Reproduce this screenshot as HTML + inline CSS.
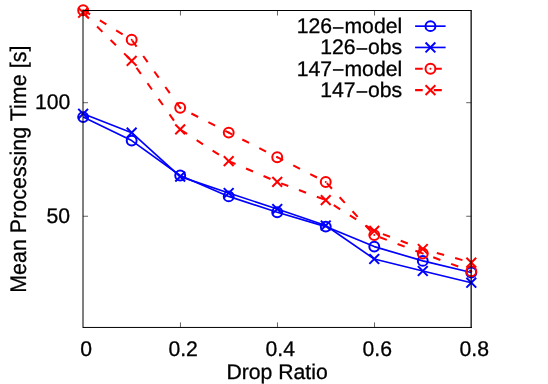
<!DOCTYPE html>
<html><head><meta charset="utf-8"><title>chart</title>
<style>
html,body{margin:0;padding:0;background:#fff;}
body{width:548px;height:384px;overflow:hidden;}
svg{display:block;will-change:transform;}
text{font-family:"Liberation Sans",sans-serif;font-size:21.2px;fill:#000;stroke:#000;stroke-width:0.3px;text-rendering:geometricPrecision;}
</style></head><body>
<svg width="548" height="384" viewBox="0 0 548 384">
<rect x="0" y="0" width="548" height="384" fill="#ffffff"/>
<g stroke="#000" stroke-width="0.62" fill="none">
<path d="M180.44,327.45V322.45M180.44,10.5V15.50"/>
<path d="M277.48,327.45V322.45M277.48,10.5V15.50"/>
<path d="M374.52,327.45V322.45M374.52,10.5V15.50"/>
<path d="M83.0,102.7H88.00M471.2,102.7H466.20"/>
<path d="M83.0,216.25H88.00M471.2,216.25H466.20"/>
</g>
<polyline points="83.15,117.10 131.67,140.60 180.19,175.50 228.71,196.40 277.23,212.20 325.75,226.60 374.27,246.60 422.79,260.90 471.31,272.50" fill="none" stroke="#0000ff" stroke-width="1.65" stroke-linejoin="round"/>
<circle cx="83.15" cy="117.10" r="4.95" fill="none" stroke="#0000ff" stroke-width="2.0"/>
<circle cx="131.67" cy="140.60" r="4.95" fill="none" stroke="#0000ff" stroke-width="2.0"/>
<circle cx="180.19" cy="175.50" r="4.95" fill="none" stroke="#0000ff" stroke-width="2.0"/>
<circle cx="228.71" cy="196.40" r="4.95" fill="none" stroke="#0000ff" stroke-width="2.0"/>
<circle cx="277.23" cy="212.20" r="4.95" fill="none" stroke="#0000ff" stroke-width="2.0"/>
<circle cx="325.75" cy="226.60" r="4.95" fill="none" stroke="#0000ff" stroke-width="2.0"/>
<circle cx="374.27" cy="246.60" r="4.95" fill="none" stroke="#0000ff" stroke-width="2.0"/>
<circle cx="422.79" cy="260.90" r="4.95" fill="none" stroke="#0000ff" stroke-width="2.0"/>
<circle cx="471.31" cy="272.50" r="4.95" fill="none" stroke="#0000ff" stroke-width="2.0"/>
<polyline points="83.15,113.80 131.67,132.70 180.19,176.60 228.71,193.00 277.23,209.00 325.75,225.50 374.27,259.00 422.79,271.00 471.31,282.70" fill="none" stroke="#0000ff" stroke-width="1.65" stroke-linejoin="round"/>
<path d="M78.25,108.90L88.05,118.70M78.25,118.70L88.05,108.90" stroke="#0000ff" stroke-width="2.0" fill="none"/>
<path d="M126.77,127.80L136.57,137.60M126.77,137.60L136.57,127.80" stroke="#0000ff" stroke-width="2.0" fill="none"/>
<path d="M175.29,171.70L185.09,181.50M175.29,181.50L185.09,171.70" stroke="#0000ff" stroke-width="2.0" fill="none"/>
<path d="M223.81,188.10L233.61,197.90M223.81,197.90L233.61,188.10" stroke="#0000ff" stroke-width="2.0" fill="none"/>
<path d="M272.33,204.10L282.13,213.90M272.33,213.90L282.13,204.10" stroke="#0000ff" stroke-width="2.0" fill="none"/>
<path d="M320.85,220.60L330.65,230.40M320.85,230.40L330.65,220.60" stroke="#0000ff" stroke-width="2.0" fill="none"/>
<path d="M369.37,254.10L379.17,263.90M369.37,263.90L379.17,254.10" stroke="#0000ff" stroke-width="2.0" fill="none"/>
<path d="M417.89,266.10L427.69,275.90M417.89,275.90L427.69,266.10" stroke="#0000ff" stroke-width="2.0" fill="none"/>
<path d="M466.41,277.80L476.21,287.60M466.41,287.60L476.21,277.80" stroke="#0000ff" stroke-width="2.0" fill="none"/>
<polyline points="83.15,10.20 131.67,39.80 180.19,107.80 228.71,132.60 277.23,157.20 325.75,182.00 374.27,235.10 422.79,253.50 471.31,271.20" fill="none" stroke="#ff0000" stroke-width="2.05" stroke-dasharray="7.6 11.45" stroke-dashoffset="-19.6"/>
<circle cx="83.15" cy="10.20" r="4.95" fill="none" stroke="#ff0000" stroke-width="2.0"/><circle cx="83.15" cy="10.20" r="1.0" fill="#ff0000"/>
<circle cx="131.67" cy="39.80" r="4.95" fill="none" stroke="#ff0000" stroke-width="2.0"/><circle cx="131.67" cy="39.80" r="1.0" fill="#ff0000"/>
<circle cx="180.19" cy="107.80" r="4.95" fill="none" stroke="#ff0000" stroke-width="2.0"/><circle cx="180.19" cy="107.80" r="1.0" fill="#ff0000"/>
<circle cx="228.71" cy="132.60" r="4.95" fill="none" stroke="#ff0000" stroke-width="2.0"/><circle cx="228.71" cy="132.60" r="1.0" fill="#ff0000"/>
<circle cx="277.23" cy="157.20" r="4.95" fill="none" stroke="#ff0000" stroke-width="2.0"/><circle cx="277.23" cy="157.20" r="1.0" fill="#ff0000"/>
<circle cx="325.75" cy="182.00" r="4.95" fill="none" stroke="#ff0000" stroke-width="2.0"/><circle cx="325.75" cy="182.00" r="1.0" fill="#ff0000"/>
<circle cx="374.27" cy="235.10" r="4.95" fill="none" stroke="#ff0000" stroke-width="2.0"/><circle cx="374.27" cy="235.10" r="1.0" fill="#ff0000"/>
<circle cx="422.79" cy="253.50" r="4.95" fill="none" stroke="#ff0000" stroke-width="2.0"/><circle cx="422.79" cy="253.50" r="1.0" fill="#ff0000"/>
<circle cx="471.31" cy="271.20" r="4.95" fill="none" stroke="#ff0000" stroke-width="2.0"/><circle cx="471.31" cy="271.20" r="1.0" fill="#ff0000"/>
<polyline points="83.15,12.70 131.67,60.90 180.19,129.40 228.71,161.10 277.23,181.90 325.75,200.10 374.27,230.90 422.79,249.00 471.31,262.60" fill="none" stroke="#ff0000" stroke-width="2.05" stroke-dasharray="7.6 11.45" stroke-dashoffset="-19.6"/>
<path d="M78.25,7.80L88.05,17.60M78.25,17.60L88.05,7.80" stroke="#ff0000" stroke-width="2.0" fill="none"/>
<path d="M126.77,56.00L136.57,65.80M126.77,65.80L136.57,56.00" stroke="#ff0000" stroke-width="2.0" fill="none"/>
<path d="M175.29,124.50L185.09,134.30M175.29,134.30L185.09,124.50" stroke="#ff0000" stroke-width="2.0" fill="none"/>
<path d="M223.81,156.20L233.61,166.00M223.81,166.00L233.61,156.20" stroke="#ff0000" stroke-width="2.0" fill="none"/>
<path d="M272.33,177.00L282.13,186.80M272.33,186.80L282.13,177.00" stroke="#ff0000" stroke-width="2.0" fill="none"/>
<path d="M320.85,195.20L330.65,205.00M320.85,205.00L330.65,195.20" stroke="#ff0000" stroke-width="2.0" fill="none"/>
<path d="M369.37,226.00L379.17,235.80M369.37,235.80L379.17,226.00" stroke="#ff0000" stroke-width="2.0" fill="none"/>
<path d="M417.89,244.10L427.69,253.90M417.89,253.90L427.69,244.10" stroke="#ff0000" stroke-width="2.0" fill="none"/>
<path d="M466.41,257.70L476.21,267.50M466.41,267.50L476.21,257.70" stroke="#ff0000" stroke-width="2.0" fill="none"/>
<path d="M415.1,26.15H445.6" stroke="#0000ff" stroke-width="1.65"/><circle cx="430.45" cy="26.15" r="4.95" fill="none" stroke="#0000ff" stroke-width="2.0"/>
<path d="M415.1,47.45H445.6" stroke="#0000ff" stroke-width="1.65"/><path d="M425.55,42.55L435.35,52.35M425.55,52.35L435.35,42.55" stroke="#0000ff" stroke-width="2.0" fill="none"/>
<path d="M415.1,68.75H422.7M434.8,68.75H441.8" stroke="#ff0000" stroke-width="2.05"/><circle cx="430.45" cy="68.75" r="4.95" fill="none" stroke="#ff0000" stroke-width="2.0"/><circle cx="430.45" cy="68.75" r="1.0" fill="#ff0000"/>
<path d="M415.1,90.1H422.7M433.8,90.1H441.8" stroke="#ff0000" stroke-width="2.05"/><path d="M425.55,85.20L435.35,95.00M425.55,95.00L435.35,85.20" stroke="#ff0000" stroke-width="2.0" fill="none"/>
<text x="402.2" y="33.00" text-anchor="end">126<tspan dy="1.7">−</tspan><tspan dy="-1.7">model</tspan></text>
<text x="402.2" y="54.30" text-anchor="end">126<tspan dy="1.7">−</tspan><tspan dy="-1.7">obs</tspan></text>
<text x="402.2" y="75.60" text-anchor="end">147<tspan dy="1.7">−</tspan><tspan dy="-1.7">model</tspan></text>
<text x="402.2" y="96.95" text-anchor="end">147<tspan dy="1.7">−</tspan><tspan dy="-1.7">obs</tspan></text>
<path d="M83.0,10.5H471.2M83.0,327.45H471.8M83.0,10.0V327.95" fill="none" stroke="#000" stroke-width="1"/>
<path d="M471.15,10.0V327.95" fill="none" stroke="#000" stroke-width="1.25"/>
<text x="86.15" y="355.95" text-anchor="middle">0</text>
<text x="183.19" y="355.95" text-anchor="middle">0.2</text>
<text x="280.23" y="355.95" text-anchor="middle">0.4</text>
<text x="377.27" y="355.95" text-anchor="middle">0.6</text>
<text x="474.31" y="355.95" text-anchor="middle">0.8</text>
<text x="70.4" y="109.4" text-anchor="end">100</text>
<text x="70.0" y="223.3" text-anchor="end">50</text>
<text x="277.1" y="379.15" text-anchor="middle">Drop Ratio</text>
<text transform="translate(25.7,169.2) rotate(-90) scale(1,1.06)" text-anchor="middle" style="font-size:21.33px;letter-spacing:0.075px;stroke-width:0.25px;text-rendering:geometricPrecision">Mean Processing Time [s]</text>
</svg></body></html>
